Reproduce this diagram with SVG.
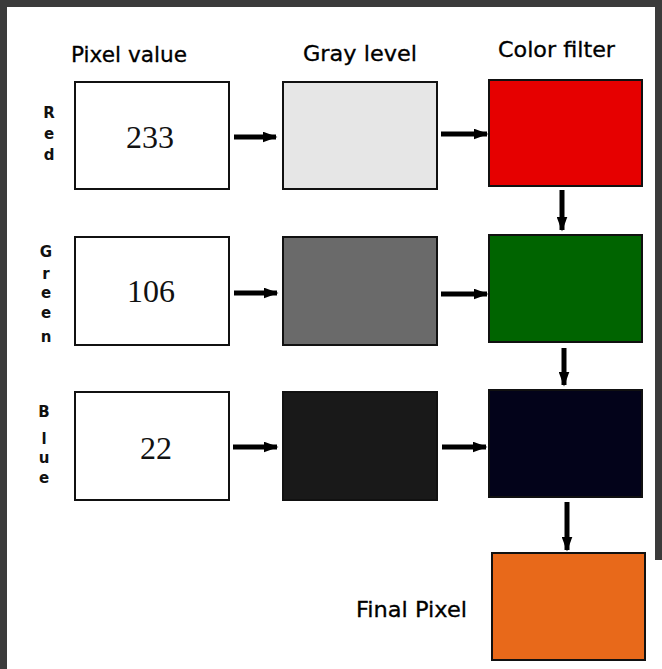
<svg xmlns="http://www.w3.org/2000/svg" width="662" height="669" viewBox="0 0 662 669">
<style>
.box{stroke:#111;stroke-width:2}
.hdr{font-family:"DejaVu Sans","Liberation Sans",sans-serif;font-size:21px;fill:#000;stroke:#000;stroke-width:0.3}
.num{font-family:"Liberation Serif","Times New Roman",serif;font-size:32px;fill:#111;text-anchor:middle}
.side{font-family:"DejaVu Sans","Liberation Sans",sans-serif;font-size:15px;font-weight:bold;fill:#111;text-anchor:middle}
.arr{stroke:#000;stroke-width:5;fill:none;marker-end:url(#ah)}
</style>
<defs>
<marker id="ah" markerWidth="3" markerHeight="2.2" refX="2.7" refY="1.1" orient="auto" markerUnits="strokeWidth">
<path d="M0,0 L3,1.1 L0,2.2 Z" fill="#000"/>
</marker>
</defs>
<rect x="0" y="0" width="662" height="669" fill="#fff"/>
<rect x="0" y="0" width="662" height="7" fill="#3b3b3b"/>
<rect x="0" y="0" width="7" height="669" fill="#3b3b3b"/>
<rect x="655" y="0" width="7" height="560" fill="#3b3b3b"/>

<g id="headers">
<text class="hdr" x="71" y="62" textLength="116" lengthAdjust="spacingAndGlyphs">Pixel value</text>
<text class="hdr" x="303" y="61" textLength="114" lengthAdjust="spacingAndGlyphs">Gray level</text>
<text class="hdr" x="498" y="57" textLength="117" lengthAdjust="spacingAndGlyphs">Color filter</text>
</g>

<g id="label-red">
<text class="side" x="49" y="118">R</text>
<text class="side" x="49" y="139">e</text>
<text class="side" x="49" y="160">d</text>
</g>
<g id="label-green">
<text class="side" x="46" y="257">G</text>
<text class="side" x="46" y="279">r</text>
<text class="side" x="46" y="298">e</text>
<text class="side" x="46" y="318">e</text>
<text class="side" x="46" y="342">n</text>
</g>
<g id="label-blue">
<text class="side" x="44" y="417">B</text>
<text class="side" x="44" y="444">l</text>
<text class="side" x="44" y="463">u</text>
<text class="side" x="44" y="483">e</text>
</g>

<g id="pixel-red"><rect class="box" x="75" y="82" width="154" height="107" fill="#fff"/><text class="num" x="150" y="148">233</text></g>
<g id="pixel-green"><rect class="box" x="75" y="237" width="154" height="108" fill="#fff"/><text class="num" x="151" y="302">106</text></g>
<g id="pixel-blue"><rect class="box" x="75" y="392" width="154" height="108" fill="#fff"/><text class="num" x="156" y="459">22</text></g>

<g id="gray-red"><rect class="box" x="283" y="82" width="154" height="107" fill="#e6e6e6"/></g>
<g id="gray-green"><rect class="box" x="283" y="237" width="154" height="108" fill="#6a6a6a"/></g>
<g id="gray-blue"><rect class="box" x="283" y="392" width="154" height="108" fill="#191919"/></g>

<g id="filter-red"><rect class="box" x="489" y="80" width="153" height="106" fill="#e60000"/></g>
<g id="filter-green"><rect class="box" x="489" y="235" width="153" height="107" fill="#006400"/></g>
<g id="filter-blue"><rect class="box" x="489" y="390" width="153" height="107" fill="#03031a"/></g>

<g id="final-pixel"><rect class="box" x="492" y="553" width="153" height="107" fill="#e8691a"/>
<text class="hdr" x="356" y="617" textLength="111" lengthAdjust="spacingAndGlyphs">Final Pixel</text></g>

<g id="connectors">
<line class="arr" x1="234" y1="137" x2="276" y2="137"/>
<line class="arr" x1="441" y1="134" x2="487" y2="134"/>
<line class="arr" x1="234" y1="293" x2="277" y2="293"/>
<line class="arr" x1="441" y1="294" x2="487" y2="294"/>
<line class="arr" x1="233" y1="447" x2="277" y2="447"/>
<line class="arr" x1="442" y1="447" x2="486" y2="447"/>
<line class="arr" x1="562" y1="190" x2="562" y2="230"/>
<line class="arr" x1="564" y1="348" x2="564" y2="385"/>
<line class="arr" x1="567" y1="502" x2="567" y2="550"/>
</g>
</svg>
